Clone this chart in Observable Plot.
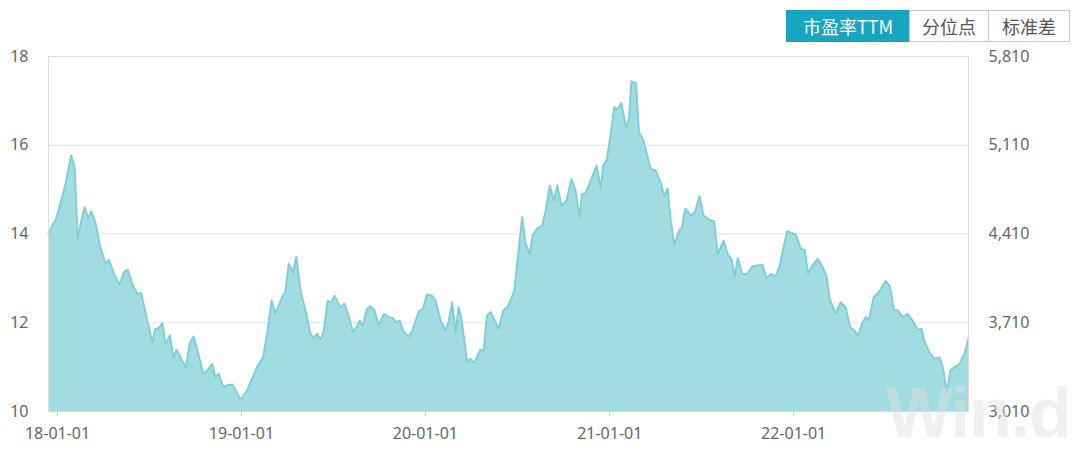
<!DOCTYPE html>
<html>
<head>
<meta charset="utf-8">
<script src="https://cdn.jsdelivr.net/npm/d3@7"></script>
<script src="https://cdn.jsdelivr.net/npm/@observablehq/plot@0.6"></script>
<style>
  html, body { margin: 0; padding: 0; background: #fff; }
  #wrap { position: relative; width: 1080px; height: 449px; overflow: hidden; font-family: "Noto Sans", "Noto Sans CJK SC", sans-serif; }
  #buttons { position: absolute; left: 786px; top: 10px; display: flex; height: 32px; }
  #buttons div { box-sizing: border-box; height: 32px; line-height: 30px; font-size: 18px; text-align: center; border: 1px solid #c8c8c8; color: #555; font-family: "Noto Sans CJK SC", sans-serif; background: #fff; }
  #buttons div.active { background: #17a5bf; border-color: #17a5bf; color: #fff; }
  #wm { position: absolute; left: 886px; top: 380px; height: 66px; line-height: 66px; font-family: "Liberation Sans", Arial, sans-serif; font-weight: bold; font-size: 70px; color: rgba(222,222,222,0.45); pointer-events: none; letter-spacing: -1px; }
</style>
</head>
<body>
<div id="wrap">
  <div id="chart"></div>
  <div id="buttons"></div>
  <div id="wm">Win.d</div>
</div>
<script>
// Dates of the sampled points (PE TTM series)
const dates = [
  "2017-12-14","2017-12-21","2017-12-28","2018-01-07","2018-01-17","2018-01-28","2018-02-04","2018-02-10","2018-02-17","2018-02-24",
  "2018-03-03","2018-03-09","2018-03-17","2018-03-26","2018-04-06","2018-04-13","2018-04-23","2018-05-04","2018-05-13","2018-05-20",
  "2018-05-29","2018-06-08","2018-06-16","2018-06-25","2018-07-08","2018-07-14","2018-07-21","2018-07-28","2018-08-03","2018-08-12",
  "2018-08-19","2018-08-25","2018-09-05","2018-09-13","2018-09-20","2018-09-28","2018-10-05","2018-10-17","2018-10-25","2018-11-04",
  "2018-11-10","2018-11-17","2018-11-26","2018-12-04","2018-12-14","2018-12-19","2018-12-29",
  "2019-01-02","2019-01-12","2019-01-22","2019-02-01","2019-02-13","2019-02-21","2019-03-02","2019-03-09","2019-03-23","2019-03-29",
  "2019-04-05","2019-04-13","2019-04-20","2019-04-28","2019-05-08","2019-05-18","2019-05-24","2019-05-31","2019-06-07","2019-06-13",
  "2019-06-21","2019-06-28","2019-07-05","2019-07-16","2019-07-24","2019-08-02","2019-08-10","2019-08-17","2019-08-24","2019-08-30",
  "2019-09-07","2019-09-14","2019-09-22","2019-09-30","2019-10-11","2019-10-20","2019-10-28","2019-11-04","2019-11-11","2019-11-19",
  "2019-11-29","2019-12-07","2019-12-19","2019-12-27",
  "2020-01-04","2020-01-14","2020-01-21","2020-01-31","2020-02-10","2020-02-16","2020-02-23","2020-03-01","2020-03-07","2020-03-12",
  "2020-03-24","2020-03-30","2020-04-07","2020-04-19","2020-04-26","2020-05-02","2020-05-10","2020-05-25","2020-06-04","2020-06-12",
  "2020-06-21","2020-06-26","2020-07-04","2020-07-11","2020-07-18","2020-07-26","2020-08-01","2020-08-10","2020-08-20","2020-08-27",
  "2020-09-04","2020-09-12","2020-09-19","2020-09-27","2020-10-07","2020-10-17","2020-10-25","2020-11-02","2020-11-07","2020-11-14",
  "2020-11-24","2020-12-06","2020-12-14","2020-12-19","2020-12-26",
  "2021-01-02","2021-01-10","2021-01-16","2021-01-24","2021-02-02","2021-02-08","2021-02-13","2021-02-22","2021-02-28","2021-03-09",
  "2021-03-17","2021-03-23","2021-04-02","2021-04-12","2021-04-19","2021-04-26","2021-05-02","2021-05-09","2021-05-19","2021-05-24",
  "2021-05-31","2021-06-11","2021-06-19","2021-06-28","2021-07-06","2021-07-17","2021-07-27","2021-08-03","2021-08-15","2021-08-23",
  "2021-08-31","2021-09-06","2021-09-12","2021-09-21","2021-10-01","2021-10-11","2021-10-21","2021-10-31","2021-11-08","2021-11-17",
  "2021-11-26","2021-12-04","2021-12-12","2021-12-19","2021-12-29",
  "2022-01-05","2022-01-15","2022-01-23","2022-01-30","2022-02-07","2022-02-18","2022-02-27","2022-03-07","2022-03-14","2022-03-25",
  "2022-04-04","2022-04-14","2022-04-23","2022-05-01","2022-05-09","2022-05-17","2022-05-24","2022-05-30","2022-06-09","2022-06-19",
  "2022-07-03","2022-07-11","2022-07-19","2022-07-27","2022-08-05","2022-08-15","2022-08-25","2022-09-04","2022-09-12","2022-09-17",
  "2022-09-27","2022-10-07","2022-10-17","2022-10-24","2022-11-01","2022-11-08","2022-11-16","2022-11-26","2022-12-06","2022-12-14"
];
const peTTM = [
  14.00,14.19,14.30,14.69,15.14,15.77,15.50,13.90,14.30,14.60,
  14.35,14.51,14.27,13.74,13.33,13.42,13.10,12.86,13.14,13.20,
  12.88,12.65,12.67,12.20,11.56,11.86,11.88,11.99,11.52,11.71,
  11.22,11.39,11.15,11.00,11.52,11.69,11.41,10.85,10.92,11.07,
  10.77,10.85,10.55,10.59,10.61,10.51,10.29,
  10.30,10.47,10.74,11.00,11.22,11.75,12.50,12.20,12.58,12.69,
  13.33,13.14,13.49,12.73,12.28,11.75,11.67,11.75,11.62,11.79,
  12.49,12.46,12.61,12.34,12.43,12.16,11.79,11.90,12.05,11.94,
  12.31,12.37,12.28,11.94,12.20,12.13,12.11,12.01,12.05,11.79,
  11.69,11.84,12.26,12.31,
  12.64,12.61,12.50,12.05,11.83,12.01,12.46,11.79,12.35,12.13,
  11.11,11.19,11.09,11.39,11.37,12.16,12.24,11.86,12.28,12.35,
  12.58,12.76,13.63,14.38,13.78,13.55,13.97,14.12,14.19,14.53,
  15.09,14.75,15.09,14.63,14.75,15.24,14.98,14.38,14.90,14.92,
  15.20,15.54,15.02,15.54,15.67,
  16.18,16.86,16.80,16.95,16.41,16.56,17.44,17.40,16.30,16.11,
  15.73,15.47,15.43,15.17,14.85,15.02,14.30,13.76,14.08,14.15,
  14.57,14.42,14.49,14.85,14.42,14.32,14.29,13.55,13.85,13.55,
  13.42,13.04,13.46,13.10,13.10,13.27,13.29,13.31,13.01,13.10,
  13.04,13.27,13.70,14.06,14.02,
  13.99,13.67,13.64,13.09,13.29,13.44,13.27,13.06,12.52,12.20,
  12.46,12.35,11.90,11.83,11.71,11.98,12.13,12.05,12.58,12.69,
  12.94,12.82,12.29,12.28,12.13,12.20,12.05,11.84,11.86,11.60,
  11.34,11.19,11.22,11.00,10.43,10.92,11.00,11.07,11.30,11.64
];
const xTicks = ["2018-01-01","2019-01-01","2020-01-01","2021-01-01","2022-01-01"];
const leftTicks = [10, 12, 14, 16, 18];
const rightTickLabels = ["3,010", "3,710", "4,410", "5,110", "5,810"];
const xDomain = ["2017-12-14", "2022-12-14"];
const buttonLabels = ["市盈率TTM", "分位点", "标准差"];

const parse = d3.utcParse("%Y-%m-%d");
const data = dates.map((d, i) => ({date: parse(d), pe: peTTM[i]}));
const fmtX = d3.utcFormat("%y-%m-%d");

const chart = Plot.plot({
  width: 1080,
  height: 449,
  marginLeft: 48,
  marginRight: 112,
  marginTop: 56,
  marginBottom: 38,
  style: {fontFamily: "'Noto Sans', sans-serif", fontSize: "16px", color: "#666", background: "#fff"},
  x: {type: "utc", domain: xDomain.map(parse)},
  y: {domain: [10, 18]},
  marks: [
    Plot.gridY([12, 14, 16], {stroke: "#e2e2e2", strokeOpacity: 1}),
    Plot.areaY(data, {x: "date", y1: 10, y2: "pe", fill: "#a2dce3", fillOpacity: 1}),
    Plot.lineY(data, {x: "date", y: "pe", stroke: "#80cfd6", strokeWidth: 2}),
    Plot.frame({stroke: "#dcdcdc"}),
    Plot.axisX(xTicks.map(parse), {tickFormat: fmtX, tickSize: 5, tickPadding: 11, stroke: "#ccc", fill: "#666", fontSize: 16, label: null, style: {letterSpacing: "0.8px"}}),
    Plot.axisY(leftTicks, {anchor: "left", tickSize: 0, tickPadding: 20, fill: "#666", fontSize: 16, label: null}),
    Plot.axisY(leftTicks, {anchor: "right", tickSize: 0, tickPadding: 20, fill: "#666", fontSize: 16, label: null,
      tickFormat: (d) => rightTickLabels[leftTicks.indexOf(d)]})
  ]
});
document.getElementById("chart").appendChild(chart);

const widths = [124, 80, 82];
const btns = document.getElementById("buttons");
buttonLabels.forEach((t, i) => {
  const b = document.createElement("div");
  b.textContent = t;
  b.style.width = widths[i] + "px";
  if (i === 0) b.className = "active";
  if (i > 0) b.style.marginLeft = "-1px";
  btns.appendChild(b);
});
</script>
</body>
</html>
